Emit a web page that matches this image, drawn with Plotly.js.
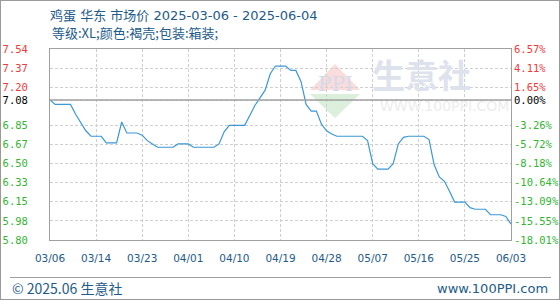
<!DOCTYPE html>
<html>
<head>
<meta charset="utf-8">
<script src="https://cdn.plot.ly/plotly-3.0.1.min.js"></script>
<style>
html,body{margin:0;padding:0;background:#fff;}
#wrap{position:relative;width:560px;height:300px;}
#chart{width:560px;height:300px;}
#frame{position:absolute;left:0;top:0;width:560px;height:300px;box-sizing:border-box;border:1px solid #9a9a9a;pointer-events:none;}
</style>
</head>
<body>
<div id="wrap"><div id="chart"></div><div id="frame"></div></div>
<script>
// ---- data ----
const titleText = '鸡蛋 华东 市场价 2025-03-06 - 2025-06-04';
const subtitleText = '等级:XL;颜色:褐壳;包装:箱装;';
const xTickLabels = ['03/06','03/14','03/23','04/01','04/10','04/19','04/28','05/07','05/16','05/25','06/03'];
const prices = [
  7.08, 7.04, 7.04, 7.04, 7.04, 6.95, 6.88, 6.80, 6.75, 6.75,
  6.75, 6.69, 6.69, 6.69, 6.88, 6.78, 6.78, 6.78, 6.76, 6.71,
  6.68, 6.65, 6.65, 6.65, 6.65, 6.68, 6.68, 6.68, 6.65, 6.65,
  6.65, 6.65, 6.65, 6.68, 6.79, 6.85, 6.85, 6.85, 6.85, 6.94,
  7.03, 7.10, 7.17, 7.32, 7.39, 7.39, 7.39, 7.35, 7.35, 7.25,
  7.04, 6.98, 6.98, 6.86, 6.80, 6.77, 6.75, 6.75, 6.75, 6.75,
  6.75, 6.75, 6.71, 6.50, 6.45, 6.45, 6.45, 6.50, 6.68, 6.74,
  6.75, 6.75, 6.75, 6.75, 6.72, 6.49, 6.38, 6.34, 6.25, 6.15,
  6.15, 6.15, 6.10, 6.085, 6.085, 6.085, 6.035, 6.035, 6.035, 6.02,
  5.95
];
const leftTickLabels = ['7.54','7.37','7.20','7.08','6.85','6.67','6.50','6.33','6.15','5.98','5.80'];
const rightTickPct = [6.57, 4.11, 1.65, 0.00, -3.26, -5.72, -8.18, -10.64, -13.09, -15.55, -18.01];
const footerLeft = '© 2025.06 生意社';
const footerRight = 'www.100PPI.com';

// ---- build ----
const base = prices[0];
const xIdx = prices.map((_, i) => i);
const xTickVals = xTickLabels.map((_, i) => i * 9);
const yTickVals = rightTickPct.map(p => base * (1 + p / 100));
const yMin = yTickVals[yTickVals.length - 1], yMax = yTickVals[0];
const RED = '#f03a3a', GREEN = '#33b533', BLACK = '#000000';
const colorFor = p => p > 0 ? RED : (p < 0 ? GREEN : BLACK);
const leftText = leftTickLabels.map((t, i) => `<span style="color:${colorFor(rightTickPct[i])}">${t}</span>`);
const rightText = rightTickPct.map(p => `<span style="color:${colorFor(p)}">${p.toFixed(2)}%</span>`);

const W = 560, H = 300, L = 50, R = 49, T = 49, B = 60;
const pw = W - L - R, ph = H - T - B;
const px = x => (x - L) / pw;
const py = y => (H - B - y) / ph;

const tickFontY = {family: '"DejaVu Sans Mono", monospace', size: 10.5, color: '#000'};
const blue = '#1d5b8a';
const mixFont = '"DejaVu Sans", "Noto Sans CJK SC", sans-serif';

const trace = {
  x: xIdx, y: prices, type: 'scatter', mode: 'lines',
  line: {color: '#3b98d6', width: 1.2}, hoverinfo: 'skip', showlegend: false
};
const trace2 = {x: [0], y: [base], yaxis: 'y2', mode: 'markers', marker: {opacity: 0}, showlegend: false, hoverinfo: 'skip'};

const layout = {
  width: W, height: H,
  margin: {l: L, r: R, t: T, b: B, pad: 0},
  paper_bgcolor: '#ffffff', plot_bgcolor: '#ffffff',
  font: {family: '"DejaVu Sans", sans-serif'},
  title: {
    text: titleText, x: 50 / W, xanchor: 'left', xref: 'container',
    y: 1 - 15 / H, yanchor: 'middle', yref: 'container',
    font: {family: mixFont, size: 13, color: blue}
  },
  xaxis: {
    range: [0, xTickLabels.length * 9 - 9], tickmode: 'array', tickvals: xTickVals, ticktext: xTickLabels,
    showgrid: true, gridcolor: '#cfcfcf', griddash: '3px,2px', gridwidth: 1,
    showline: true, linecolor: '#a0a0a0', linewidth: 1, mirror: true,
    ticks: '', zeroline: false, ticklabelstandoff: 8,
    tickfont: {family: '"DejaVu Sans", sans-serif', size: 10.5, color: blue}, fixedrange: true
  },
  yaxis: {
    range: [yMin, yMax], tickmode: 'array', tickvals: yTickVals, ticktext: leftText,
    showgrid: true, gridcolor: '#cfcfcf', griddash: '3px,2px', gridwidth: 1,
    showline: true, linecolor: '#a0a0a0', linewidth: 1, mirror: true,
    ticks: '', zeroline: false, ticklabelstandoff: 19,
    tickfont: tickFontY, fixedrange: true
  },
  yaxis2: {
    range: [yMin, yMax], overlaying: 'y', side: 'right', tickmode: 'array', tickvals: yTickVals, ticktext: rightText,
    showgrid: false, zeroline: false, ticks: '', showline: false, ticklabelstandoff: 2,
    tickfont: tickFontY, fixedrange: true
  },
  shapes: [
    {type: 'path', xref: 'paper', yref: 'paper', layer: 'below', line: {width: 0}, fillcolor: '#fadcdc',
     path: `M ${px(335)} ${py(64)} L ${px(310)} ${py(90)} L ${px(360)} ${py(90)} Z`},
    {type: 'path', xref: 'paper', yref: 'paper', layer: 'below', line: {width: 0}, fillcolor: '#dcefdc',
     path: `M ${px(310)} ${py(94)} L ${px(360)} ${py(94)} L ${px(335)} ${py(118)} Z`},
    {type: 'line', xref: 'paper', yref: 'y', x0: 0, x1: 1, y0: base, y1: base, line: {color: '#a0a0a0', width: 1.5}},
    {type: 'line', xref: 'paper', yref: 'paper', x0: px(10), x1: px(551), y0: py(277.5), y1: py(277.5), line: {color: '#a0a0a0', width: 1}}
  ],
  annotations: [
    {text: subtitleText, xref: 'paper', yref: 'paper', x: px(50), y: py(33), xanchor: 'left', yanchor: 'middle', showarrow: false,
     font: {family: '"Noto Sans CJK SC", sans-serif', size: 13, color: blue}},
    {text: 'PPI', xref: 'paper', yref: 'paper', x: px(335), y: py(84), xanchor: 'center', yanchor: 'middle', showarrow: false,
     font: {family: '"DejaVu Serif", serif', size: 20, color: '#d3dbe9'}},
    {text: '<b>生意社</b>', xref: 'paper', yref: 'paper', x: px(421), y: py(74), xanchor: 'center', yanchor: 'middle', showarrow: false,
     font: {family: '"Noto Sans CJK SC", sans-serif', size: 33, color: '#dde2ed'}},
    {text: 'WWW.100PPI.COM', xref: 'paper', yref: 'paper', x: px(444), y: py(106), xanchor: 'center', yanchor: 'middle', showarrow: false,
     font: {family: '"DejaVu Sans", sans-serif', size: 14, color: '#ececec'}},
    {text: footerLeft, xref: 'paper', yref: 'paper', x: px(10), y: py(288), xanchor: 'left', yanchor: 'middle', showarrow: false,
     font: {family: '"Noto Sans CJK SC", sans-serif', size: 14, color: blue}},
    {text: footerRight, xref: 'paper', yref: 'paper', x: px(550), y: py(288), xanchor: 'right', yanchor: 'middle', showarrow: false,
     font: {family: '"DejaVu Sans", sans-serif', size: 13, color: blue}}
  ]
};

Plotly.newPlot('chart', [trace, trace2], layout, {displayModeBar: false, staticPlot: true});
</script>
</body>
</html>
